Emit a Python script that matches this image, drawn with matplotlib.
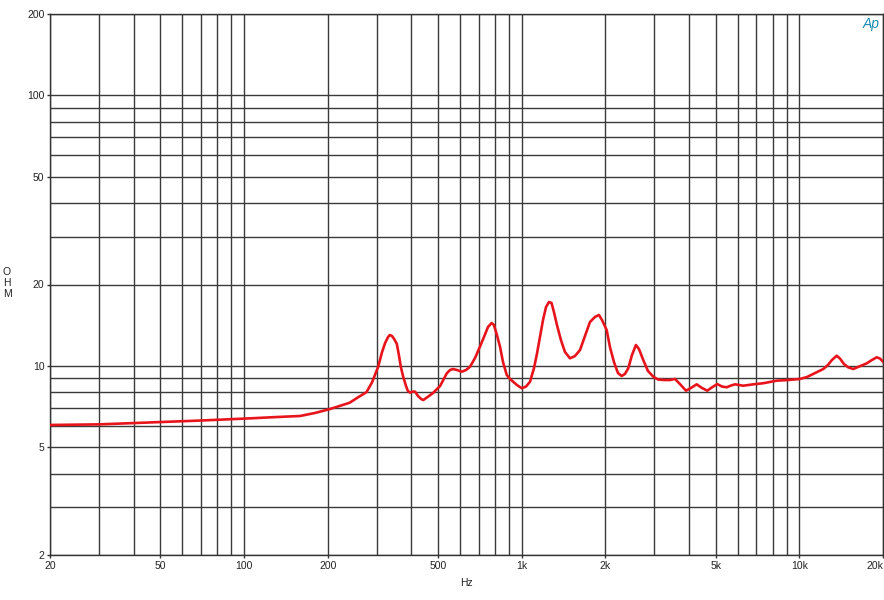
#!/usr/bin/env python3
import numpy as np
import matplotlib
matplotlib.use('Agg')
import matplotlib.pyplot as plt
from matplotlib.ticker import FixedLocator, NullFormatter

# Impedance curve (frequency in Hz, impedance in ohm)
freq = [20, 30, 46, 69, 105, 130, 159, 180, 204, 240, 257, 276, 289, 304,
        314, 322, 330, 335, 341, 347, 355, 361, 367, 374, 383, 389, 396,
        406, 413, 423, 434, 442, 460, 479, 508, 537, 552, 565, 584, 608,
        630, 651, 679, 707, 731, 756, 779, 794, 814, 835, 856, 883, 907,
        932, 961, 1000, 1036, 1071, 1107, 1134, 1163, 1193, 1223, 1253,
        1280, 1306, 1339, 1384, 1431, 1492, 1555, 1621, 1690, 1761, 1835,
        1897, 1945, 2022, 2078, 2148, 2221, 2290, 2353, 2419, 2494, 2578,
        2643, 2739, 2848, 2976, 3095, 3253, 3419, 3563, 3714, 3904, 4069,
        4265, 4457, 4658, 4842, 5060, 5260, 5470, 5669, 5860, 6277, 6818,
        7408, 8279, 9094, 10045, 10646, 11218, 11665, 12186, 12667, 13098,
        13621, 13997, 14470, 14995, 15630, 16251, 17470, 18250, 18975,
        19500, 20000]
ohm = [6.05, 6.08, 6.18, 6.28, 6.40, 6.47, 6.53, 6.70, 6.93, 7.31, 7.65,
       8.0, 8.70, 9.93, 11.26, 12.15, 12.79, 13.01, 12.9, 12.58, 12.05,
       10.97, 9.91, 9.13, 8.43, 8.08, 7.97, 8.04, 8.03, 7.74, 7.55, 7.48,
       7.70, 7.94, 8.43, 9.39, 9.66, 9.74, 9.66, 9.52, 9.66, 9.93, 10.70,
       11.78, 12.79, 13.93, 14.41, 14.17, 13.01, 11.78, 10.34, 9.26, 8.95,
       8.74, 8.50, 8.27, 8.39, 8.74, 9.82, 11.07, 12.82, 14.79, 16.51,
       17.23, 17.09, 15.82, 14.17, 12.47, 11.26, 10.67, 10.88, 11.45,
       12.9, 14.54, 15.17, 15.43, 14.79, 13.58, 11.75, 10.34, 9.41, 9.18,
       9.34, 9.80, 10.97, 11.95, 11.55, 10.52, 9.58, 9.13, 8.91, 8.87,
       8.87, 8.95, 8.57, 8.10, 8.29, 8.55, 8.29, 8.10, 8.33, 8.57, 8.39,
       8.34, 8.46, 8.55, 8.45, 8.55, 8.63, 8.82, 8.87, 8.95, 9.10, 9.34,
       9.52, 9.74, 10.08, 10.52, 10.91, 10.65, 10.16, 9.88, 9.74, 9.91,
       10.22, 10.52, 10.76, 10.65, 10.37]

x_ticks = [20, 50, 100, 200, 500, 1000, 2000, 5000, 10000, 20000]
x_tick_labels = ['20', '50', '100', '200', '500', '1k', '2k', '5k', '10k', '20k']
y_ticks = [2, 5, 10, 20, 50, 100, 200]
y_tick_labels = ['2', '5', '10', '20', '50', '100', '200']

plt.rcParams['font.family'] = ['Liberation Sans', 'DejaVu Sans']

fig = plt.figure(figsize=(8.84, 6.0), dpi=100)
ax = fig.add_axes([50 / 884, 45 / 600, 833 / 884, 541 / 600])

ax.set_xscale('log')
ax.set_yscale('log')
ax.set_xlim(20, 20000)
ax.set_ylim(2, 200)

# Grid on every decade subdivision
x_grid = [m * 10 ** e for e in range(1, 5) for m in range(1, 10)]
x_grid = [v for v in x_grid if 20 <= v <= 20000]
y_grid = [m * 10 ** e for e in range(0, 3) for m in range(1, 10)]
y_grid = [v for v in y_grid if 2 <= v <= 200]
for v in x_grid:
    ax.axvline(v, color='#3a3a3a', lw=1.0, zorder=1)
for v in y_grid:
    ax.axhline(v, color='#3a3a3a', lw=1.0, zorder=1)

ax.plot(freq, ohm, color='#e8141c', lw=1.9, zorder=3,
        solid_joinstyle='round')

ax.xaxis.set_major_locator(FixedLocator(x_ticks))
ax.xaxis.set_minor_locator(FixedLocator([]))
ax.set_xticklabels(x_tick_labels)
ax.yaxis.set_major_locator(FixedLocator(y_ticks))
ax.yaxis.set_minor_locator(FixedLocator([]))
ax.yaxis.set_minor_formatter(NullFormatter())
ax.set_yticklabels(y_tick_labels)
ax.tick_params(axis='both', length=2, width=1, color='#333333',
               labelsize=7.5, labelcolor='#222222', pad=2)
# keep "20k" inside the figure, as in the reference
ax.get_xticklabels()[-1].set_horizontalalignment('right')

for side in ax.spines.values():
    side.set_color('#333333')
    side.set_linewidth(1.0)

ax.set_xlabel('Hz', fontsize=7.5, color='#222222', labelpad=5)
fig.text(7 / 884, 1 - 283 / 600, 'O\nH\nM', fontsize=7.5, color='#222222',
         ha='center', va='center', linespacing=1.1)

# AP logo
fig.text(871 / 884, 1 - 24 / 600, 'Ap', fontsize=10, color='#1a8cb0',
         ha='center', va='center', style='italic')

fig.savefig('out.png', dpi=100)
